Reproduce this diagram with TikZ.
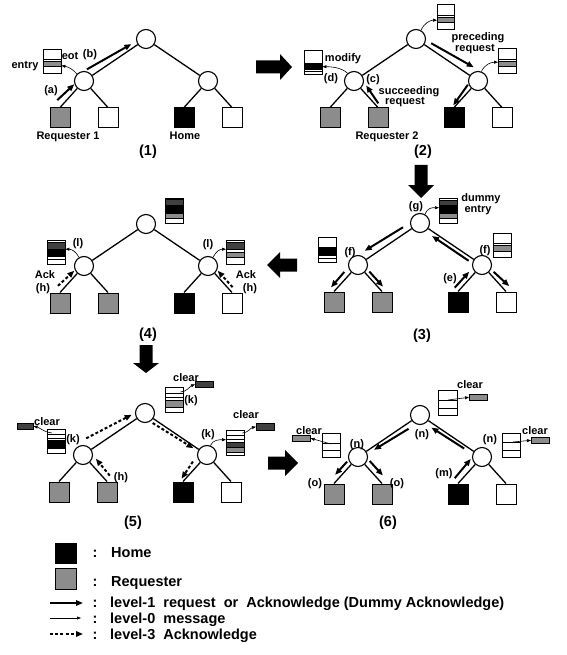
\documentclass[tikz,border=0pt]{standalone}
\usepackage{fontspec}
\setmainfont{Liberation Sans}
\usetikzlibrary{calc,arrows.meta}
\tikzset{
  tnode/.style={circle,draw,line width=1.1pt,minimum size=19pt,inner sep=0pt,fill=white},
  leafbox/.style={rectangle,draw,line width=1pt,minimum size=20pt,inner sep=0pt},
  homeleaf/.style={leafbox,fill=black},
  reqleaf/.style={leafbox,fill=black!45},
  freeleaf/.style={leafbox,fill=white},
  tedge/.style={line width=1.3pt},
  lvone/.style={line width=2pt,-{Triangle[length=7pt,width=5.5pt]}},
  lvzero/.style={line width=0.6pt,-{Triangle[length=4pt,width=3pt]}},
  lvthree/.style={line width=2pt,dash pattern=on 3pt off 2.2pt,-{Triangle[length=7pt,width=5.5pt]}},
  lbl/.style={font=\fontsize{11}{12}\selectfont\bfseries,inner sep=0pt,text height=8pt,text depth=0pt},
  pnum/.style={font=\fontsize{14.5}{16}\selectfont\bfseries,inner sep=0pt,text height=10.4pt,text depth=0pt},
  lgd/.style={font=\fontsize{14.5}{16}\selectfont\bfseries,inner sep=0pt,text height=10.4pt,text depth=0pt,anchor=west},
  eboxst/.style={draw=none,inner sep=0pt,anchor=north west},
  bandline/.style={line width=0.6pt},
  boxframe/.style={line width=1pt},
  darkdot/.style={fill=black!75},
  lightdot/.style={fill=black!45},
}
\newcommand\maketree[4]{%
  \node[tnode] (#1r) at (#2,#3) {};
  \node[tnode] (#1a) at ($(#1r)+(-62,-42)$) {};
  \node[tnode] (#1b) at ($(#1r)+(62,-42)$) {};
  \node[reqleaf] (#1l1) at ($(#1r)+(-86,-79)$) {};
  \node[#4] (#1l2) at ($(#1r)+(-38,-79)$) {};
  \node[homeleaf] (#1l3) at ($(#1r)+(38,-79)$) {};
  \node[freeleaf] (#1l4) at ($(#1r)+(86,-79)$) {};
  \draw[tedge] (#1r) -- (#1a) (#1r) -- (#1b) (#1a) -- (#1l1.north) (#1a) -- (#1l2.north) (#1b) -- (#1l3.north) (#1b) -- (#1l4.north);
}
\newcommand\para[7]{\draw[#1] ($(#2)!#4!(#3)!#6pt!90:(#3)$) -- ($(#2)!#5!(#3)!#7pt!90:(#3)$);}
\newcommand\ebox[5]{\node[eboxst,minimum width=#4pt,minimum height=#5pt] (#1) at (#2,-#3) {};}
\newcommand\band[4]{\draw[bandline,#4] ($(#1.north west)+(0,-#2)$) rectangle ($(#1.north east)+(0,-#3)$);}
\newcommand\bline[2]{\draw[bandline] ($(#1.north west)+(0,-#2)$) -- ($(#1.north east)+(0,-#2)$);}
\newcommand\bframe[1]{\draw[boxframe] (#1.north west) rectangle (#1.south east);}
\newcommand\fatarrow[5]{\fill[shift={(#1,-#2)},rotate=#3] (0,6.5) -- ({#4-#5},6.5) -- ({#4-#5},13) -- (#4,0) -- ({#4-#5},-13) -- ({#4-#5},-6.5) -- (0,-6.5) -- cycle;}
\begin{document}
\begin{tikzpicture}[x=1pt,y=1pt]
\useasboundingbox (0,0) rectangle (566,-655);
% ---------------- trees
\maketree{p1}{146}{-39}{freeleaf}
\maketree{p2}{416}{-39}{reqleaf}
\maketree{p3}{420}{-223}{reqleaf}
\maketree{p4}{146}{-224}{reqleaf}
\maketree{p5}{145}{-413}{reqleaf}
\maketree{p6}{420}{-415}{reqleaf}
% ---------------- fat arrows between panels
\fatarrow{256}{67}{0}{36}{12}
\fatarrow{421}{165}{-90}{33}{13}
\fatarrow{297}{265}{180}{30}{13}
\fatarrow{146}{345}{-90}{28}{10}
\fatarrow{268}{463}{0}{30}{13}
% ---------------- entry boxes
\ebox{b1}{43}{50}{18}{23} \bline{b1}{9} \band{b1}{11}{16}{lightdot} \bframe{b1}
\ebox{b2m}{304}{51}{18}{23} \band{b2m}{12}{18}{fill=black} \bline{b2m}{20} \bframe{b2m}
\ebox{b2r}{437}{5}{17}{24} \bline{b2r}{10} \band{b2r}{12}{17}{lightdot} \bframe{b2r}
\ebox{b2b}{498}{49}{18}{24} \bline{b2b}{10} \band{b2b}{12}{17}{lightdot} \bframe{b2b}
\ebox{b3d}{439}{198}{18}{25} \band{b3d}{2}{7}{darkdot} \band{b3d}{7}{14}{fill=black} \band{b3d}{15}{20}{lightdot} \bframe{b3d}
\ebox{b3a}{318}{237}{18}{25} \band{b3a}{10}{18}{fill=black} \bline{b3a}{21} \bframe{b3a}
\ebox{b3b}{493}{233}{18}{24} \bline{b3b}{10} \band{b3b}{12}{18}{lightdot} \bframe{b3b}
\ebox{b4r}{165}{198}{18}{25} \band{b4r}{1}{7}{darkdot} \band{b4r}{7}{14}{fill=black} \band{b4r}{15}{20}{lightdot} \bframe{b4r}
\ebox{b4a}{47}{240}{18}{24} \band{b4a}{2}{9}{darkdot} \band{b4a}{9}{16}{fill=black} \bline{b4a}{19} \bframe{b4a}
\ebox{b4b}{226}{240}{18}{24} \band{b4b}{2}{9}{darkdot} \band{b4b}{12}{17}{lightdot} \bframe{b4b}
\ebox{b5r}{165}{387}{18}{25} \bline{b5r}{6} \bline{b5r}{10} \band{b5r}{13}{20}{lightdot} \bframe{b5r}
\ebox{b5a}{47}{429}{18}{24} \bline{b5a}{5} \bline{b5a}{9} \band{b5a}{11}{19}{fill=black} \bframe{b5a}
\ebox{b5b}{226}{430}{18}{25} \bline{b5b}{5} \bline{b5b}{9} \band{b5b}{12}{17}{darkdot} \band{b5b}{17}{22}{lightdot} \bframe{b5b}
\ebox{b6r}{438}{390}{19}{25} \bline{b6r}{10} \bline{b6r}{18} \bframe{b6r}
\ebox{b6a}{322}{433}{18}{24} \bline{b6a}{10} \bline{b6a}{17} \bframe{b6a}
\ebox{b6b}{502}{433}{18}{24} \bline{b6b}{9} \bline{b6b}{17} \bframe{b6b}
% small "clear" boxes
\node[eboxst,minimum width=18pt,minimum height=6pt,draw,line width=0.6pt,darkdot] (s5r) at (195,-381) {};
\node[eboxst,minimum width=16pt,minimum height=6pt,draw,line width=0.6pt,darkdot] (s5a) at (17,-423) {};
\node[eboxst,minimum width=18pt,minimum height=7pt,draw,line width=0.6pt,darkdot] (s5b) at (256,-423) {};
\node[eboxst,minimum width=18pt,minimum height=6pt,draw,line width=0.6pt,lightdot] (s6r) at (469,-394) {};
\node[eboxst,minimum width=18pt,minimum height=6pt,draw,line width=0.6pt,lightdot] (s6a) at (292,-435) {};
\node[eboxst,minimum width=18pt,minimum height=6pt,draw,line width=0.6pt,lightdot] (s6b) at (531,-437) {};
% ---------------- level-0 messages
\draw[lvzero] (p1a.135) .. controls +(-4,5) and +(6,-1) .. ($(b1.east)+(0,-4)$);
\draw[lvzero] (p2a.130) .. controls +(-6,6) and +(8,0) .. ($(b2m.east)+(0,-4)$);
\draw[lvzero] (p2r.60) .. controls +(3,7) and +(-7,0) .. ($(b2r.west)+(0,-3)$);
\draw[lvzero] (p2b.70) .. controls +(3,7) and +(-7,0) .. ($(b2b.west)+(0,-1)$);
\draw[lvzero] (p3r.60) .. controls +(3,7) and +(-7,0) .. ($(b3d.west)+(0,3)$);
\draw[lvzero] (p4a.120) .. controls +(-3,6) and +(6,0) .. ($(b4a.east)+(0,3)$);
\draw[lvzero] (p4b.60) .. controls +(3,6) and +(-6,0) .. ($(b4b.west)+(0,3)$);
\draw[lvzero] (p5b.70) .. controls +(2,6) and +(-6,0) .. ($(b5b.west)+(0,3)$);
\draw[lvzero] ($(b5r.north east)+(-3,-5)$) .. controls +(6,0) and +(-5,-2) .. (s5r.west);
\draw[lvzero] ($(b5a.north west)+(5,-4)$) .. controls +(-6,0) and +(5,-1) .. (s5a.east);
\draw[lvzero] ($(b5b.north east)+(-2,-3)$) .. controls +(5,0) and +(-5,-1) .. (s5b.west);
\draw[lvzero] ($(b6r.north west)+(10,-10)$) -- (s6r.west);
\draw[lvzero] ($(b6a.north west)+(9,-11)$) -- (s6a.east);
\draw[lvzero] ($(b6b.north west)+(11,-9)$) -- (s6b.west);
% ---------------- level-1 messages
\para{lvone}{p1l1.north}{p1a}{0.1}{0.75}{7}{5}
\para{lvone}{p1a}{p1r}{0.12}{0.8}{8}{4}
\para{lvone}{p2l2.north}{p2a}{0.08}{0.68}{-3}{-6}
\para{lvone}{p2r}{p2b}{0.2}{0.85}{5}{9}
\para{lvone}{p2b}{p2l3.north}{0.27}{0.97}{-5}{-2}
\para{lvone}{p3r}{p3a}{0.22}{0.82}{-6}{-8}
\para{lvone}{p3b}{p3r}{0.18}{0.77}{4}{4}
\para{lvone}{p3l3.north}{p3b}{0.02}{0.62}{5}{5}
\para{lvone}{p3a}{p3l1.north}{0.4}{0.97}{-5.5}{-5}
\para{lvone}{p3a}{p3l2.north}{0.35}{0.92}{4}{4}
\para{lvone}{p3b}{p3l4.north}{0.36}{0.95}{4}{6}
\para{lvone}{p6r}{p6a}{0.23}{0.77}{5}{3}
\para{lvone}{p6b}{p6r}{0.26}{0.78}{3}{4}
\para{lvone}{p6a}{p6l1.north}{0.3}{0.8}{-5}{-5}
\para{lvone}{p6a}{p6l2.north}{0.3}{0.85}{6}{6}
\para{lvone}{p6l3.north}{p6b}{0.05}{0.75}{6}{7}
% ---------------- level-3 acknowledges
\para{lvthree}{p4l1.north}{p4a}{0.1}{0.72}{6}{4}
\para{lvthree}{p4l4.north}{p4b}{0.1}{0.72}{-4}{-4}
\para{lvthree}{p5a}{p5r}{0.16}{0.84}{12}{6}
\para{lvthree}{p5r}{p5b}{0.16}{0.8}{-4}{-2}
\para{lvthree}{p5l2.north}{p5a}{0.07}{0.68}{-6}{-7}
\para{lvthree}{p5b}{p5l3.north}{0.4}{0.97}{-6}{-3}
% ---------------- labels panel 1
\node[lbl] (p1entry) at (25,-65) {entry};
\node[lbl] (p1eot) at (70,-56) {eot};
\node[lbl] (p1lb) at (90,-54) {(b)};
\node[lbl] (p1la) at (51,-90) {(a)};
\node[lbl] (p1req) at (68,-136) {Requester 1};
\node[lbl] (p1home) at (185,-136) {Home};
\node[pnum] (p1num) at (148,-150) {(1)};
% panel 2
\node[lbl] (p2mod) at (343,-58) {modify};
\node[lbl] (p2ld) at (331,-78) {(d)};
\node[lbl] (p2lc) at (373,-79) {(c)};
\node[lbl] (p2succ) at (409,-91) {succeeding};
\node[lbl] (p2sreq) at (405,-101) {request};
\node[lbl] (p2req) at (387,-136) {Requester 2};
\node[lbl] (p2prec) at (478,-37) {preceding};
\node[lbl] (p2preq) at (475,-48) {request};
\node[pnum] (p2num) at (423,-150) {(2)};
% panel 3
\node[lbl] (p3lg) at (416,-205) {(g)};
\node[lbl] (p3dum) at (481,-197) {dummy};
\node[lbl] (p3ent) at (478,-208) {entry};
\node[lbl] (p3lf1) at (350,-251) {(f)};
\node[lbl] (p3lf2) at (485,-249) {(f)};
\node[lbl] (p3le) at (450,-277) {(e)};
\node[pnum] (p3num) at (422,-334) {(3)};
% panel 4
\node[lbl] (p4ll1) at (78,-242) {(l)};
\node[lbl] (p4ll2) at (208,-243) {(l)};
\node[lbl] (p4ack1) at (45,-274) {Ack};
\node[lbl] (p4lh1) at (43,-287) {(h)};
\node[lbl] (p4ack2) at (246,-274) {Ack};
\node[lbl] (p4lh2) at (250,-287) {(h)};
\node[pnum] (p4num) at (148,-333) {(4)};
% panel 5
\node[lbl] (p5cl1) at (186,-377) {clear};
\node[lbl] (p5lk1) at (191,-399) {(k)};
\node[lbl] (p5cl2) at (47,-421) {clear};
\node[lbl] (p5lk2) at (73,-438) {(k)};
\node[lbl] (p5lk3) at (208,-433) {(k)};
\node[lbl] (p5cl3) at (246,-414) {clear};
\node[lbl] (p5lh) at (121,-476) {(h)};
\node[pnum] (p5num) at (133,-521) {(5)};
% panel 6
\node[lbl] (p6cl1) at (470,-384) {clear};
\node[lbl] (p6cl2) at (309,-430) {clear};
\node[lbl] (p6cl3) at (535,-430) {clear};
\node[lbl] (p6ln1) at (422,-433) {(n)};
\node[lbl] (p6ln2) at (357,-443) {(n)};
\node[lbl] (p6ln3) at (490,-438) {(n)};
\node[lbl] (p6lo1) at (315,-482) {(o)};
\node[lbl] (p6lo2) at (397,-482) {(o)};
\node[lbl] (p6lm) at (444,-472) {(m)};
\node[pnum] (p6num) at (388,-521) {(6)};
% ---------------- legend
\node[homeleaf,minimum width=21pt,minimum height=20pt] (lgh) at (65.5,-553) {};
\node[reqleaf,minimum width=21pt,minimum height=21pt] (lgr) at (65.5,-578.5) {};
\coordinate (lg1a) at (50,-603); \coordinate (lg1b) at (83,-603);
\coordinate (lg0a) at (50,-618); \coordinate (lg0b) at (81,-618);
\coordinate (lg3a) at (50,-634); \coordinate (lg3b) at (83,-634);
\draw[lvone] (lg1a) -- (lg1b);
\draw[lvzero] (lg0a) -- (lg0b);
\draw[lvthree] (lg3a) -- (lg3b);
\node[lgd,anchor=center] (lc1) at (95,-552.5) {:};
\node[lgd,anchor=center] (lc2) at (95,-581) {:};
\node[lgd,anchor=center] (lc3) at (95,-602.5) {:};
\node[lgd,anchor=center] (lc4) at (95,-618) {:};
\node[lgd,anchor=center] (lc5) at (95,-634) {:};
\node[lgd] (lt1) at (111,-552.5) {Home};
\node[lgd] (lt2) at (111,-581) {Requester};
\node[lgd] (lt3) at (110,-602.5) {level-1\ \ request\ \ or\ \ Acknowledge (Dummy Acknowledge)};
\node[lgd] (lt4) at (110,-618) {level-0\ \ message};
\node[lgd] (lt5) at (110,-634) {level-3\ \ Acknowledge};
\end{tikzpicture}
\end{document}
